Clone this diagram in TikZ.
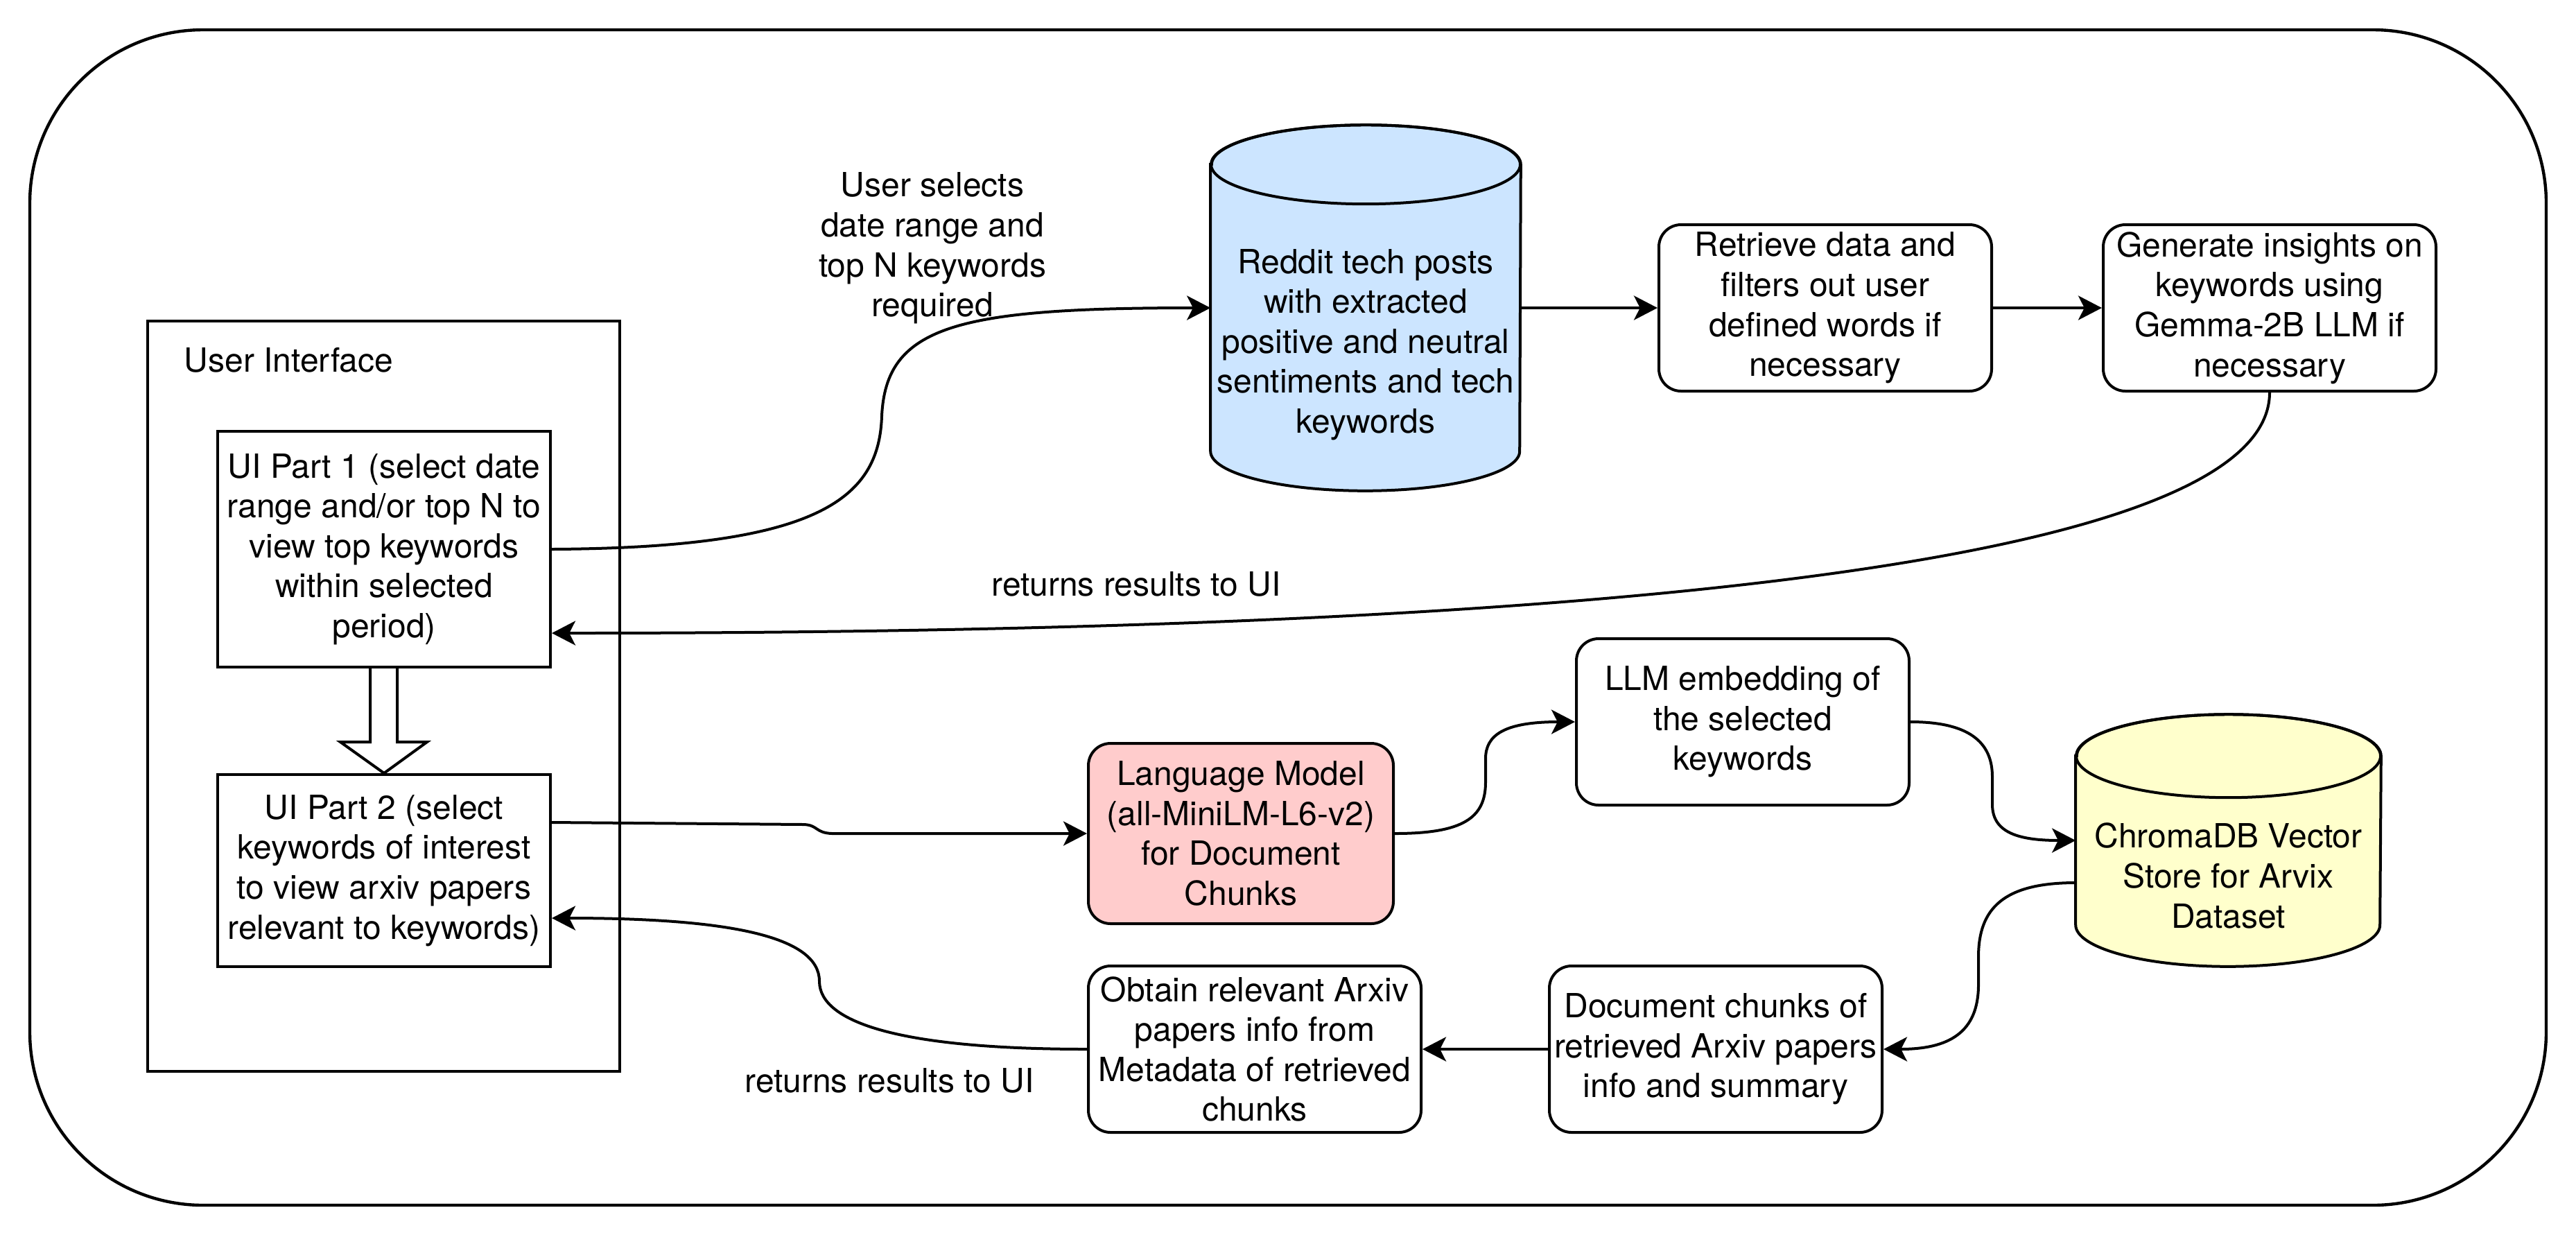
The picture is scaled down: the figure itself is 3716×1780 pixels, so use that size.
\documentclass[tikz,border=0pt]{standalone}
\usepackage{fontspec}
\setmainfont{TeX Gyre Heros}
\usetikzlibrary{arrows.meta,calc}
\definecolor{redditblue}{HTML}{CCE5FF}
\definecolor{lmpink}{HTML}{FFCCCC}
\definecolor{chromayellow}{HTML}{FFFFCC}
\begin{document}
\begin{tikzpicture}[x=0.25pt,y=-0.25pt,
  every node/.style={font=\fontsize{12}{14.4}\selectfont, inner sep=0pt, align=center},
  plainbox/.style={draw, line width=1pt, fill=white},
  roundbox/.style={draw, line width=1pt, rounded corners=8pt, fill=white, minimum width=120pt, minimum height=60pt},
  conn/.style={line width=1pt, -{Stealth[length=8.5pt,width=8.75pt,inset=2.2pt]}},
  cylline/.style={line width=1pt}]
\useasboundingbox (0,0) rectangle (3716,1780);

% outer frame
\node[draw, line width=1.1pt, rounded corners=62.5pt, minimum width=907.5pt, minimum height=423.75pt] (frame) at (1858,890.5) {};

% user interface container
\node[plainbox, minimum width=170.25pt, minimum height=270.5pt] (ui) at (553.5,1004) {};
\node[anchor=west] (uititle) at (265,519) {User Interface};

\node[plainbox, minimum width=120pt, minimum height=85pt] (ui1) at (554,792)
  {UI Part 1 (select date\\range and/or top N to\\view top keywords\\within selected\\period)};
\node[plainbox, minimum width=120pt, minimum height=69.25pt] (ui2) at (554,1255.5)
  {UI Part 2 (select\\keywords of interest\\to view arxiv papers\\relevant to keywords)};

% block arrow between UI parts
\draw[line width=1pt, fill=white] ($(ui1.south)+(-20,0)$) -- ++(0,106) -- ++(-43,0) -- (ui2.north)
  -- ($(ui1.south)+(62,106)$) -- ++(-43,0) -- ++(0,-106);

% Reddit cylinder
\node[minimum width=111.5pt, minimum height=131.5pt] (reddit) at (1970,444) {};
\draw[cylline, fill=redditblue] ($(reddit.north west)+(0,57)$) -- ($(reddit.south west)+(0,-57)$)
  arc[start angle=180, end angle=360, x radius=55.75pt, y radius=14.25pt]
  -- ($(reddit.north east)+(0,57)$)
  arc[start angle=0, end angle=180, x radius=55.75pt, y radius=14.25pt] -- cycle;
\draw[cylline] ($(reddit.north)+(0,57)$) ellipse[x radius=55.75pt, y radius=14.25pt];
\node (reddittxt) at (1970,497) {Reddit tech posts\\with extracted\\positive and neutral\\sentiments and tech\\keywords};

% top row boxes
\node[roundbox] (retrieve) at (2633,444) {Retrieve data and\\filters out user\\defined words if\\necessary};
\node[roundbox] (generate) at (3274,444) {Generate insights on\\keywords using\\Gemma-2B LLM if\\necessary};

% middle row
\node[roundbox, fill=lmpink, minimum width=110pt, minimum height=65pt] (lm) at (1790,1202)
  {Language Model\\(all-MiniLM-L6-v2)\\for Document\\Chunks};
\node[roundbox] (llm) at (2514,1041) {LLM embedding of\\the selected\\keywords};

% ChromaDB cylinder
\node[minimum width=109.75pt, minimum height=90.5pt] (chroma) at (3214.5,1212) {};
\draw[cylline, fill=chromayellow] ($(chroma.north west)+(0,60)$) -- ($(chroma.south west)+(0,-60)$)
  arc[start angle=180, end angle=360, x radius=54.875pt, y radius=15pt]
  -- ($(chroma.north east)+(0,60)$)
  arc[start angle=0, end angle=180, x radius=54.875pt, y radius=15pt] -- cycle;
\draw[cylline] ($(chroma.north)+(0,60)$) ellipse[x radius=54.875pt, y radius=15pt];
\node (chromatxt) at (3214.5,1263) {ChromaDB Vector\\Store for Arvix\\Dataset};

% bottom row
\node[roundbox] (doc) at (2475,1513) {Document chunks of\\retrieved Arxiv papers\\info and summary};
\node[roundbox] (obtain) at (1810,1513) {Obtain relevant Arxiv\\papers info from\\Metadata of retrieved\\chunks};

% labels
\node (lblsel) at (1345,358) {User selects\\date range and\\top N keywords\\required};
\node (lblret1) at (1639,842) {returns results to UI};
\node (lblret2) at (1283,1558) {returns results to UI};

% connectors
\draw[conn] (ui1.east) .. controls (1180,790) and (1268,720) .. (1272,600)
  .. controls (1278,470) and (1380,444) .. (reddit.west);
\draw[conn] (reddit.east) -- (retrieve.west);
\draw[conn] (retrieve.east) -- (generate.west);
\draw[conn] (generate.south) .. controls (3274,850) and (2000,913) .. (ui1.east |- 0,913);
\draw[conn] (ui2.east |- 0,1186) -- (1160,1189) .. controls (1180,1190) and (1176,1201) .. (1200,1202) -- (lm.west);
\draw[conn] (lm.east) .. controls (2110,1202) and (2143,1180) .. (2143,1128) -- (2143,1094)
  .. controls (2143,1060) and (2170,1041) .. (llm.west);
\draw[conn] (llm.east) .. controls (2840,1041) and (2874,1070) .. (2874,1120) -- (2874,1160)
  .. controls (2874,1200) and (2910,1212) .. (chroma.west);
\draw[conn] (chroma.west |- 0,1273) .. controls (2890,1273) and (2854,1310) .. (2854,1380) -- (2854,1420)
  .. controls (2854,1490) and (2810,1513) .. (doc.east);
\draw[conn] (doc.west) -- (obtain.east);
\draw[conn] (obtain.west) .. controls (1300,1513) and (1182,1475) .. (1182,1415)
  .. controls (1182,1350) and (1050,1324) .. (ui2.east |- 0,1324);
\end{tikzpicture}
\end{document}
